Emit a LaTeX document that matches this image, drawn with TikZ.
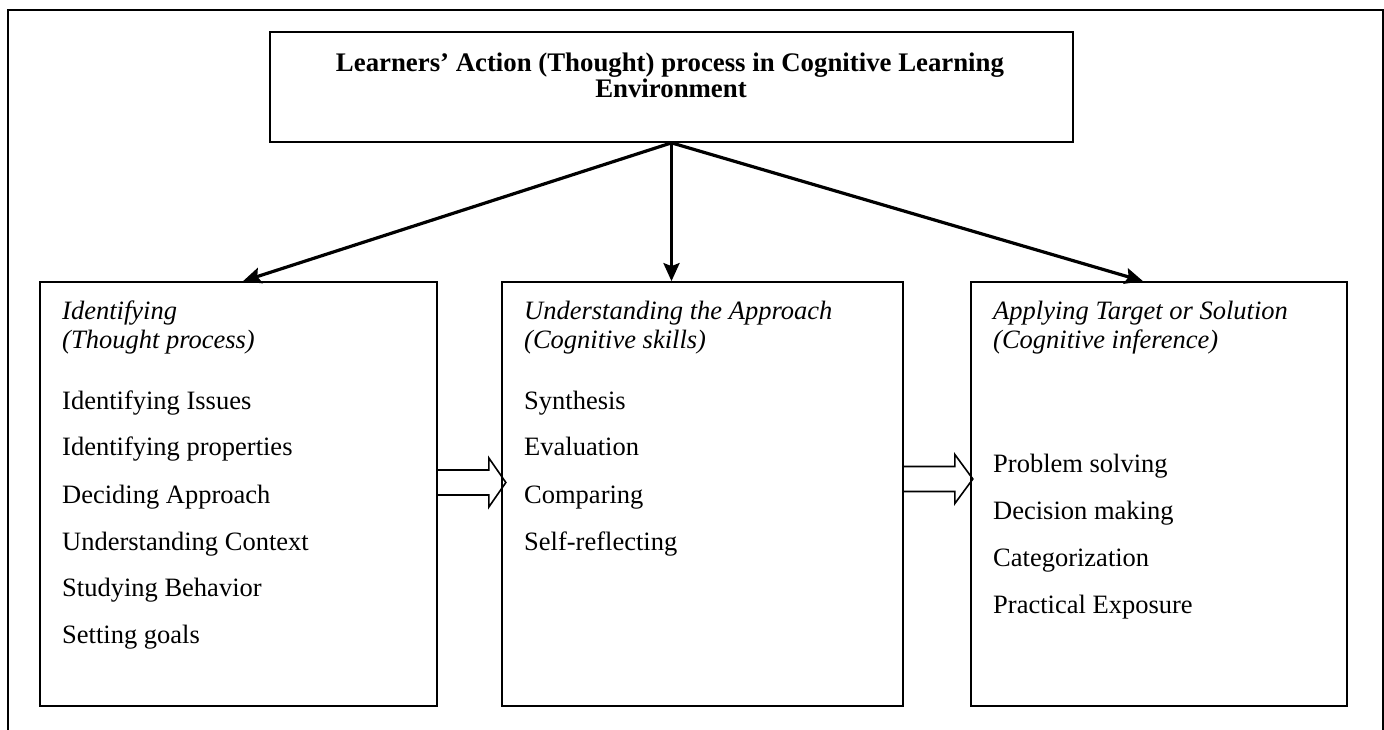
\documentclass[tikz,border=0pt]{standalone}
\usepackage{fontspec}
\setmainfont{Liberation Serif}
\usetikzlibrary{arrows.meta,calc}
\begin{document}
\begin{tikzpicture}[x=1pt,y=-1pt,
  box/.style={draw, line width=1.7pt, rectangle, inner sep=0pt},
  frame/.style={line width=1.8pt},
  txt/.style={anchor=base west, inner sep=0pt, font=\fontsize{26.5}{30}\selectfont},
  headtxt/.style={anchor=base west, inner sep=0pt, font=\fontsize{26.5}{30}\selectfont\itshape},
  ttl/.style={anchor=base, inner sep=0pt, font=\fontsize{26.8}{30}\selectfont\bfseries},
  conn/.style={line width=3.2pt, -{Stealth[length=18pt,width=16pt,inset=3pt]}},
  hollow/.style={draw, line width=1.6pt, line join=miter}]
\useasboundingbox (0,0) rectangle (1384,730);
% outer frame (open at bottom)
\draw[frame] (8,730) -- (8,10) -- (1383,10) -- (1383,730);
% boxes
\node[box, minimum width=803pt, minimum height=110pt] (top) at (671.5,87) {};
\node[box, minimum width=397pt, minimum height=424pt] (lbox) at (238.5,494) {};
\node[box, minimum width=401pt, minimum height=424pt] (mbox) at (702.5,494) {};
\node[box, minimum width=376pt, minimum height=424pt] (rbox) at (1159,494) {};
% title
\node[ttl] (t1) at (670,72) {Learners’ Action (Thought) process in Cognitive Learning};
\node[ttl] (t2) at (671,98) {Environment};
% connectors
\draw[conn] (top.south) -- ($(lbox.north)+(4.5,0)$);
\draw[conn] (top.south) -- (top.south |- mbox.north);
\draw[conn] (top.south) -- ($(rbox.north)+(-16,0)$);
% hollow block arrows
\coordinate (a1) at ($(lbox.east)+(0,-11.5)$);
\draw[hollow] (a1) ++(0,-12.5) -- ++(51,0) -- ++(0,-12) -- ++(17,24.5) -- ++(-17,24.5) -- ++(0,-12) -- ++(-51,0);
\coordinate (a2) at ($(mbox.east)+(0,-15)$);
\draw[hollow] (a2) ++(0,-12.5) -- ++(51,0) -- ++(0,-12) -- ++(18,24.5) -- ++(-18,24.5) -- ++(0,-12) -- ++(-51,0);
% left box text
\node[headtxt] (lh1) at (62,319) {Identifying};
\node[headtxt] (lh2) at (62,348) {(Thought process)};
\node[txt] (l1) at (62,409) {Identifying Issues};
\node[txt] (l2) at (62,455) {Identifying properties};
\node[txt] (l3) at (62,503) {Deciding Approach};
\node[txt] (l4) at (62,550) {Understanding Context};
\node[txt] (l5) at (62,596) {Studying Behavior};
\node[txt] (l6) at (62,643) {Setting goals};
% middle box text
\node[headtxt] (mh1) at (524,319) {Understanding the Approach};
\node[headtxt] (mh2) at (524,348) {(Cognitive skills)};
\node[txt] (m1) at (524,409) {Synthesis};
\node[txt] (m2) at (524,455) {Evaluation};
\node[txt] (m3) at (524,503) {Comparing};
\node[txt] (m4) at (524,550) {Self-reflecting};
% right box text
\node[headtxt] (rh1) at (993,319) {Applying Target or Solution};
\node[headtxt] (rh2) at (993,348) {(Cognitive inference)};
\node[txt] (r1) at (993,472) {Problem solving};
\node[txt] (r2) at (993,519) {Decision making};
\node[txt] (r3) at (993,566) {Categorization};
\node[txt] (r4) at (993,613) {Practical Exposure};
\end{tikzpicture}
\end{document}
